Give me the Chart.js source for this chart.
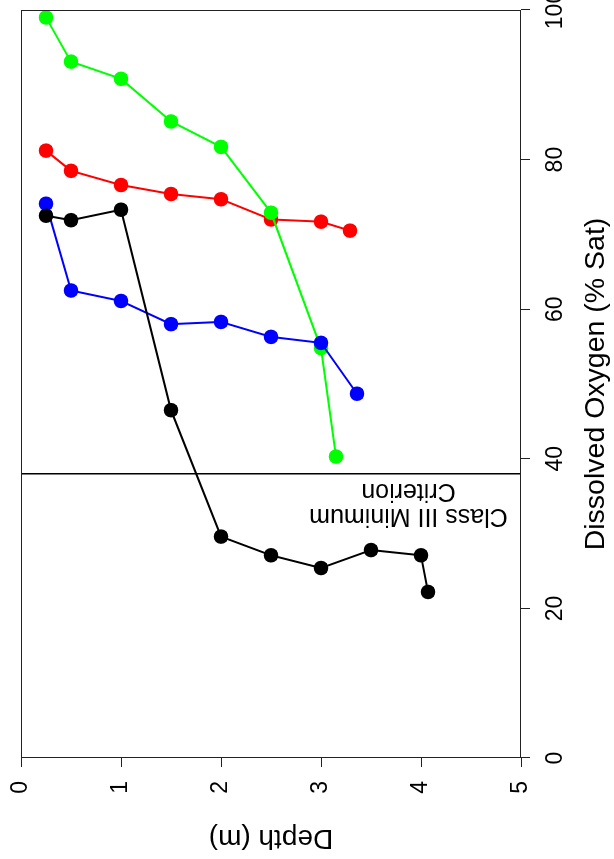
<!DOCTYPE html>
<html>
<head>
<meta charset="utf-8">
<script src="https://cdn.jsdelivr.net/npm/chart.js@4.4.0/dist/chart.umd.min.js"></script>
<style>
  html, body { margin: 0; padding: 0; background: #fff; overflow: hidden; }
  /* the chart is drawn upright and then turned a quarter turn to the left */
  #plot {
    position: absolute; left: 0; top: 0;
    width: 859px; height: 614px;
    transform-origin: 0 0;
    transform: translate(0px, 859px) rotate(-90deg);
  }
</style>
</head>
<body>
<div id="plot"><canvas id="chart" width="859" height="614"></canvas></div>
<script>
// Depth (m) and dissolved oxygen (% sat) for each profile
var depthBlack = [0.25, 0.5, 1, 1.5, 2, 2.5, 3, 3.5, 4, 4.07];
var doBlack = [72.5, 71.9, 73.3, 46.5, 29.6, 27.1, 25.4, 27.8, 27.1, 22.2];

var depthBlue = [0.25, 0.5, 1, 1.5, 2, 2.5, 3, 3.36];
var doBlue = [74.1, 62.5, 61.1, 58.0, 58.3, 56.3, 55.5, 48.7];

var depthGreen = [0.25, 0.5, 1, 1.5, 2, 2.5, 3, 3.15];
var doGreen = [99.0, 93.1, 90.8, 85.1, 81.7, 72.9, 54.8, 40.3];

var depthRed = [0.25, 0.5, 1, 1.5, 2, 2.5, 3, 3.29];
var doRed = [81.2, 78.5, 76.6, 75.4, 74.7, 72.0, 71.7, 70.5];

// Class III minimum criterion
var criterionDO = 38;
var criterionDepth = [0, 5];
var criterionText = ["Class III Minimum", "Criterion"];
var criterionTextDO = 34;
var criterionTextDepth = 3.875;

var doTicks = [0, 20, 40, 60, 80, 100];
var depthTicks = [0, 1, 2, 3, 4, 5];

var FONT = "'Liberation Sans', Arial, Helvetica, sans-serif";
Chart.defaults.font.family = FONT;
Chart.defaults.color = "#000";

function toPoints(depths, values) {
  return depths.map(function (d, i) {
    return { x: values[i], y: d };
  });
}

function profile(depths, values, color) {
  return {
    data: toPoints(depths, values),
    showLine: true,
    borderColor: color,
    borderWidth: 2,
    backgroundColor: color,
    pointBackgroundColor: color,
    pointBorderWidth: 0,
    pointRadius: 7.3,
    pointHoverRadius: 7.3,
  };
}

var boxPlugin = {
  id: "box",
  afterDraw: function (chart) {
    var a = chart.chartArea;
    var ctx = chart.ctx;
    ctx.save();
    ctx.strokeStyle = "#222";
    ctx.lineWidth = 1;
    ctx.strokeRect(a.left + 0.5, a.top + 0.5, a.right - a.left - 1, a.bottom - a.top - 1);
    ctx.restore();
  },
};

var notePlugin = {
  id: "note",
  afterDatasetsDraw: function (chart) {
    var ctx = chart.ctx;
    var x = chart.scales.x.getPixelForValue(criterionTextDO);
    var y = chart.scales.y.getPixelForValue(criterionTextDepth);
    ctx.save();
    ctx.translate(x, y);
    ctx.rotate(-Math.PI / 2);
    ctx.font = "25px " + FONT;
    ctx.fillStyle = "#000";
    ctx.textAlign = "center";
    ctx.textBaseline = "middle";
    ctx.fillText(criterionText[0], 0, -12.5);
    ctx.fillText(criterionText[1], 0, 12.5);
    ctx.restore();
  },
};

var criterionLine = {
  data: [
    { x: criterionDO, y: criterionDepth[0] },
    { x: criterionDO, y: criterionDepth[1] },
  ],
  showLine: true,
  borderColor: "#000",
  borderWidth: 1.5,
  pointRadius: 0,
  pointHoverRadius: 0,
};

new Chart(document.getElementById("chart"), {
  type: "scatter",
  data: {
    datasets: [
      profile(depthBlack, doBlack, "#000000"),
      profile(depthBlue, doBlue, "#0000ff"),
      profile(depthGreen, doGreen, "#00ff00"),
      profile(depthRed, doRed, "#ff0000"),
      criterionLine,
    ],
  },
  options: {
    responsive: false,
    devicePixelRatio: 1,
    animation: false,
    events: [],
    layout: { padding: { top: 21, right: 10, left: 0, bottom: 0 } },
    plugins: { legend: { display: false }, tooltip: { enabled: false } },
    scales: {
      x: {
        type: "linear",
        position: "bottom",
        min: 0,
        max: 100,
        afterBuildTicks: function (scale) {
          scale.ticks = doTicks.map(function (v) { return { value: v }; });
        },
        afterFit: function (scale) {
          scale.height = 93;
          scale.paddingLeft = 0;
          scale.paddingRight = 0;
        },
        grid: { drawOnChartArea: false, drawTicks: true, tickLength: 9, color: "#222", lineWidth: 1 },
        border: { display: false },
        ticks: { font: { size: 23 }, padding: 12, maxRotation: 0, color: "#000" },
        title: {
          display: true,
          text: "Dissolved Oxygen (% Sat)",
          font: { size: 28.5 },
          padding: { top: 0, bottom: 1 },
          color: "#000",
        },
      },
      y: {
        type: "linear",
        position: "left",
        reverse: true,
        min: 0,
        max: 5,
        afterBuildTicks: function (scale) {
          scale.ticks = depthTicks.map(function (v) { return { value: v }; });
        },
        afterFit: function (scale) {
          scale.width = 101;
          scale.paddingTop = 0;
          scale.paddingBottom = 0;
        },
        grid: { drawOnChartArea: false, drawTicks: true, tickLength: 9, color: "#222", lineWidth: 1 },
        border: { display: false },
        ticks: { font: { size: 23 }, padding: 14, color: "#000" },
        title: {
          display: true,
          text: "Depth (m)",
          font: { size: 28 },
          padding: { top: 4, bottom: 0 },
          color: "#000",
        },
      },
    },
  },
  plugins: [boxPlugin, notePlugin],
});
</script>
</body>
</html>
